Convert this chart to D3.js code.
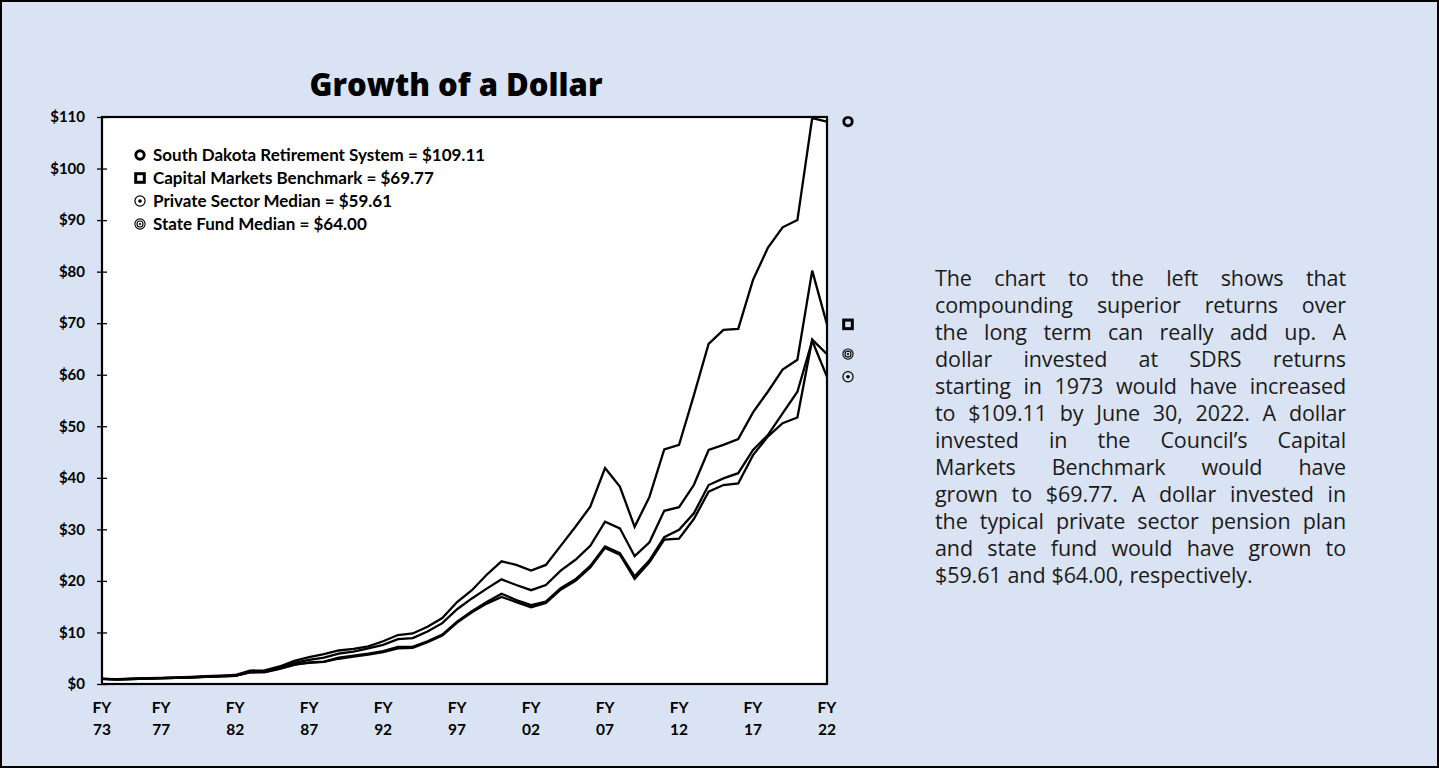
<!DOCTYPE html>
<html>
<head>
<meta charset="utf-8">
<script src="https://cdn.jsdelivr.net/npm/d3@7"></script>
<style>
	html, body { margin: 0; padding: 0; }
	body { width: 1439px; height: 768px; overflow: hidden; background: #dae3f3; position: relative; }
	#chart { position: absolute; left: 0; top: 0; }
	.note { position: absolute; left: 935px; top: 264px; width: 411px; font-family: 'Open Sans', sans-serif; font-size: 21.5px; letter-spacing: -0.1px; word-spacing: 0.5px; line-height: 27px; color: #1a1a1a; }
	.note div { text-align: justify; text-align-last: justify; }
	.note div:last-child { text-align: left; text-align-last: left; }
</style>
</head>
<body>
<svg id="chart" width="1439" height="768"></svg>
<div class="note"></div>
<script>
const years = [1973, 1974, 1975, 1976, 1977, 1978, 1979, 1980, 1981, 1982,
	1983, 1984, 1985, 1986, 1987, 1988, 1989, 1990, 1991, 1992,
	1993, 1994, 1995, 1996, 1997, 1998, 1999, 2000, 2001, 2002,
	2003, 2004, 2005, 2006, 2007, 2008, 2009, 2010, 2011, 2012,
	2013, 2014, 2015, 2016, 2017, 2018, 2019, 2020, 2021, 2022];

// growth of $1, FY73..FY22
const sdrs = [1.00, 0.92, 1.02, 1.12, 1.20, 1.26, 1.38, 1.52, 1.64, 1.75,
	2.60, 2.65, 3.40, 4.50, 5.20, 5.80, 6.50, 6.80, 7.30, 8.30,
	9.50, 9.80, 11.1, 12.8, 15.9, 18.2, 21.2, 23.8, 23.1, 22.0,
	23.1, 26.8, 30.5, 34.4, 41.9, 38.3, 30.5, 36.3, 45.5, 46.4,
	56.0, 66.0, 68.7, 68.9, 78.4, 84.6, 88.6, 90.0, 109.8, 109.11];
const capitalMarkets = [1.00, 0.90, 0.98, 1.08, 1.15, 1.20, 1.30, 1.42, 1.52, 1.62,
	2.45, 2.50, 3.20, 4.10, 4.70, 5.10, 5.90, 6.30, 6.90, 7.60,
	8.70, 8.90, 10.2, 11.8, 14.5, 16.6, 18.5, 20.3, 19.2, 18.2,
	19.2, 22.0, 24.1, 26.8, 31.5, 30.2, 24.8, 27.5, 33.6, 34.3,
	38.6, 45.4, 46.4, 47.5, 52.7, 56.7, 61.0, 62.9, 80.2, 69.77];
const privateSector = [1.00, 0.88, 0.96, 1.05, 1.12, 1.17, 1.26, 1.38, 1.47, 1.56,
	2.25, 2.30, 2.95, 3.70, 4.20, 4.35, 5.10, 5.50, 5.90, 6.40,
	7.20, 7.20, 8.30, 9.60, 12.1, 14.1, 15.9, 17.5, 16.3, 15.3,
	16.0, 18.6, 20.3, 22.9, 26.7, 25.4, 20.9, 24.0, 28.5, 29.9,
	33.1, 38.6, 39.9, 40.9, 45.4, 48.3, 52.5, 56.7, 66.6, 59.61];
const stateFund = [1.00, 0.89, 0.97, 1.06, 1.13, 1.18, 1.27, 1.40, 1.49, 1.58,
	2.28, 2.32, 3.00, 3.80, 4.10, 4.30, 4.90, 5.30, 5.70, 6.20,
	6.90, 7.00, 8.10, 9.40, 11.9, 13.9, 15.6, 16.9, 15.9, 14.9,
	15.7, 18.3, 20.0, 22.6, 26.4, 25.1, 20.4, 23.6, 28.0, 28.2,
	32.0, 37.3, 38.6, 38.9, 44.4, 48.0, 50.6, 51.7, 66.8, 64.00];

const seriesNames = ['South Dakota Retirement System', 'Capital Markets Benchmark', 'Private Sector Median', 'State Fund Median'];
const seriesMarkers = ['ring', 'square', 'dot', 'target'];

const yTicks = [0, 10, 20, 30, 40, 50, 60, 70, 80, 90, 100, 110];
const xTickYears = [1973, 1977, 1982, 1987, 1992, 1997, 2002, 2007, 2012, 2017, 2022];
const xTickLabels = ['73', '77', '82', '87', '92', '97', '02', '07', '12', '17', '22'];

const title = 'Growth of a Dollar';
const noteLines = [
	'The chart to the left shows that',
	'compounding superior returns over',
	'the long term can really add up. A',
	'dollar invested at SDRS returns',
	'starting in 1973 would have increased',
	'to $109.11 by June 30, 2022. A dollar',
	'invested in the Council\u2019s Capital',
	'Markets Benchmark would have',
	'grown to $69.77. A dollar invested in',
	'the typical private sector pension plan',
	'and state fund would have grown to',
	'$59.61 and $64.00, respectively.'
];

const series = [sdrs, capitalMarkets, privateSector, stateFund].map((values, i) => ({
	name: seriesNames[i],
	marker: seriesMarkers[i],
	values: values,
	last: values[values.length - 1]
}));

const plot = {left: 102, right: 827, top: 117, bottom: 684};
const labelFont = 'Lato, "Open Sans", sans-serif';

const svg = d3.select('#chart');

const xScale = d3.scaleLinear().domain([1973, 2022]).range([plot.left, plot.right]);
const yScale = d3.scaleLinear().domain([0, 110]).range([plot.bottom, plot.top]);

// page frame
svg.append('rect')
	.attr('x', 1).attr('y', 1)
	.attr('width', 1437).attr('height', 766)
	.attr('fill', 'none')
	.attr('stroke', '#000')
	.attr('stroke-width', 2);

svg.append('text')
	.attr('x', 456)
	.attr('y', 96)
	.attr('text-anchor', 'middle')
	.style('font-family', '"Open Sans", sans-serif')
	.style('font-weight', 800)
	.style('font-size', '31px')
	.text(title);

svg.append('rect')
	.attr('x', plot.left).attr('y', plot.top)
	.attr('width', plot.right - plot.left)
	.attr('height', plot.bottom - plot.top)
	.attr('fill', '#fff');

svg.append('defs').append('clipPath')
	.attr('id', 'plot-clip')
	.append('rect')
	.attr('x', plot.left).attr('y', plot.top)
	.attr('width', plot.right - plot.left)
	.attr('height', plot.bottom - plot.top);

const line = d3.line()
	.x((d, i) => xScale(years[i]))
	.y(d => yScale(d));

svg.append('g')
	.attr('clip-path', 'url(#plot-clip)')
	.selectAll('path')
	.data(series)
	.enter()
	.append('path')
	.attr('d', d => line(d.values))
	.attr('fill', 'none')
	.attr('stroke', '#000')
	.attr('stroke-width', 2.3);

// y axis, ticks cross the axis line
svg.append('g')
	.attr('transform', `translate(${plot.left}, 0)`)
	.call(d3.axisLeft(yScale).tickValues(yTicks).tickFormat(d => '$' + d).tickSize(5).tickPadding(12))
	.call(g => g.select('.domain').remove())
	.call(g => g.selectAll('.tick line').attr('x1', 5).attr('stroke', '#000').attr('stroke-width', 1.3))
	.call(g => g.selectAll('.tick text')
		.style('font-family', labelFont)
		.style('font-weight', 700)
		.style('font-size', '15px')
		.attr('fill', '#000'));

// x axis labels
const xLabels = svg.append('g')
	.selectAll('text')
	.data(xTickYears)
	.enter()
	.append('text')
	.attr('text-anchor', 'middle')
	.attr('x', d => xScale(d))
	.style('font-family', labelFont)
	.style('font-weight', 700)
	.style('font-size', '15.5px');

xLabels.append('tspan').attr('x', d => xScale(d)).attr('y', 713).text('FY');
xLabels.append('tspan').attr('x', d => xScale(d)).attr('y', 735).text((d, i) => xTickLabels[i]);

// plot frame
svg.append('rect')
	.attr('x', plot.left).attr('y', plot.top)
	.attr('width', plot.right - plot.left)
	.attr('height', plot.bottom - plot.top)
	.attr('fill', 'none')
	.attr('stroke', '#000')
	.attr('stroke-width', 2.2);

const _drawMarker = (g, type) => {
	if (type === 'ring') {
		g.append('circle').attr('r', 4.2).attr('fill', 'none').attr('stroke', '#000').attr('stroke-width', 2.9);
	} else if (type === 'square') {
		g.append('rect').attr('x', -4.3).attr('y', -4.3).attr('width', 8.6).attr('height', 8.6)
			.attr('fill', 'none').attr('stroke', '#000').attr('stroke-width', 3);
	} else if (type === 'dot') {
		g.append('circle').attr('r', 5.1).attr('fill', 'none').attr('stroke', '#000').attr('stroke-width', 1.2);
		g.append('circle').attr('r', 1.8).attr('fill', '#000');
	} else {
		g.append('circle').attr('r', 5.1).attr('fill', 'none').attr('stroke', '#000').attr('stroke-width', 1.1);
		g.append('circle').attr('r', 3).attr('fill', 'none').attr('stroke', '#000').attr('stroke-width', 1.1);
		g.append('circle').attr('r', 1.1).attr('fill', '#000');
	}
};

// end markers beside the plot
svg.append('g')
	.selectAll('g')
	.data(series)
	.enter()
	.append('g')
	.attr('transform', d => `translate(${xScale(2022) + 21}, ${yScale(d.last)})`)
	.each(function (d) { _drawMarker(d3.select(this), d.marker); });

// legend
const legend = svg.append('g')
	.selectAll('g')
	.data(series)
	.enter()
	.append('g')
	.attr('transform', (d, i) => `translate(140, ${155 + i * 23})`);

legend.each(function (d) { _drawMarker(d3.select(this), d.marker); });

legend.append('text')
	.attr('x', 13)
	.attr('y', 5.8)
	.style('font-family', labelFont)
	.style('font-weight', 700)
	.style('font-size', '17px')
	.text(d => `${d.name} = $${d.last.toFixed(2)}`);

d3.select('.note')
	.selectAll('div')
	.data(noteLines)
	.enter()
	.append('div')
	.text(d => d);
</script>
</body>
</html>
